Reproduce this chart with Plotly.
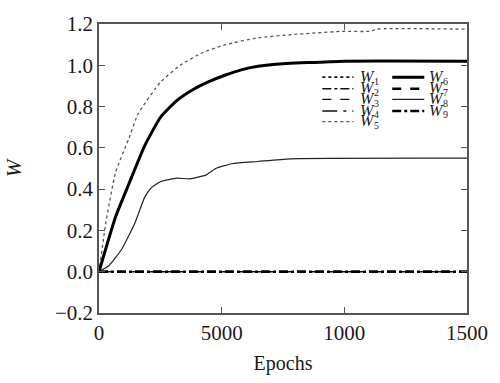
import plotly.graph_objects as go

# ---- data ----
epochs_top = [0, 277, 673, 1200, 1595, 2520, 3310, 4235, 5160, 6480, 7800, 9840, 11100, 11300, 15000]
w5_vals = [0, 0.236, 0.48, 0.64, 0.765, 0.92, 1.0, 1.062, 1.10, 1.133, 1.148, 1.164, 1.165, 1.175, 1.175]

epochs_w6 = [0, 673, 1200, 1860, 2520, 3180, 3840, 4500, 5160, 5800, 6480, 7200, 8500, 10000, 15000]
w6_vals = [0, 0.265, 0.42, 0.61, 0.75, 0.83, 0.883, 0.922, 0.953, 0.978, 0.995, 1.005, 1.013, 1.02, 1.02]

epochs_w8 = [0, 410, 930, 1460, 1860, 2120, 2520, 3180, 3700, 4370, 4760, 5420, 6480, 7800, 15000]
w8_vals = [0, 0.03, 0.11, 0.235, 0.36, 0.405, 0.437, 0.453, 0.45, 0.469, 0.50, 0.523, 0.534, 0.547, 0.55]

epochs_zero = [0, 15000]
zero_vals = [0, 0]

x_tickvals = [0, 5000, 10000, 15000]
x_ticktext = ["0", "5000", "1000", "1500"]
y_tickvals = [-0.2, 0, 0.2, 0.4, 0.6, 0.8, 1.0, 1.2]
y_ticktext = ["\u22120.2", "0.0", "0.2", "0.4", "0.6", "0.8", "1.0", "1.2"]

styles = {
    "W1": ("dot", 1.6, "#111"),
    "W2": ("dashdot", 1.4, "#111"),
    "W3": ("dash", 1.4, "#111"),
    "W4": ("longdashdot", 1.4, "#111"),
    "W5": ("dot", 1.3, "#555"),
    "W6": ("solid", 3.0, "#000"),
    "W7": ("dash", 2.4, "#000"),
    "W8": ("solid", 1.2, "#222"),
    "W9": ("dashdot", 2.4, "#000"),
}

series = {
    "W1": (epochs_zero, zero_vals),
    "W2": (epochs_zero, zero_vals),
    "W3": (epochs_zero, zero_vals),
    "W4": (epochs_zero, zero_vals),
    "W5": (epochs_top, w5_vals),
    "W6": (epochs_w6, w6_vals),
    "W7": (epochs_zero, zero_vals),
    "W8": (epochs_w8, w8_vals),
    "W9": (epochs_zero, zero_vals),
}

FONT = "Liberation Serif"
TXT = "#1a1a1a"

fig = go.Figure()
for name, (xs, ys) in series.items():
    dash, width, color = styles[name]
    fig.add_trace(go.Scatter(
        x=xs, y=ys, mode="lines", name=name, showlegend=False,
        line=dict(dash=dash, width=width, color=color, shape="spline", smoothing=0.5),
    ))

# ---- manual compact legend (two columns) ----
L, R, T, B = 98, 23, 17, 67
W, H = 500, 383
pw, ph = W - L - R, H - T - B

def px_to_paper(px, py):
    return (px - L) / pw, (H - B - py) / ph

rows = [72, 84, 95, 107, 118]
col1 = ["W1", "W2", "W3", "W4", "W5"]
col2 = ["W6", "W7", "W8", "W9"]
shapes = []
annotations = []
for cols, (x0, x1, xt) in ((col1, (328, 360, 365)), (col2, (400, 433, 436))):
    for i, name in enumerate(cols):
        dash, width, color = styles[name]
        py = rows[i]
        a0, b0 = px_to_paper(x0, py)
        a1, _ = px_to_paper(x1, py)
        shapes.append(dict(type="line", xref="paper", yref="paper", x0=a0, x1=a1, y0=b0, y1=b0,
                           line=dict(dash=dash, width=width, color=color)))
        at, bt = px_to_paper(xt, py - 1)
        annotations.append(dict(xref="paper", yref="paper", x=at, y=bt, xanchor="left", yanchor="middle",
                                text="<i>W</i>", showarrow=False,
                                font=dict(family=FONT, size=16, color=TXT)))
        as_, bs = px_to_paper(xt + 14, py + 4)
        annotations.append(dict(xref="paper", yref="paper", x=as_, y=bs, xanchor="left", yanchor="middle",
                                text=name[1:], showarrow=False,
                                font=dict(family=FONT, size=10, color=TXT)))

fig.update_layout(
    width=W, height=H,
    margin=dict(l=L, r=R, t=T, b=B),
    paper_bgcolor="white", plot_bgcolor="white",
    font=dict(family=FONT, size=21, color=TXT),
    shapes=shapes, annotations=annotations,
    xaxis=dict(range=[0, 15000], tickvals=x_tickvals, ticktext=x_ticktext,
               ticks="inside", ticklen=6, tickwidth=1.3, tickcolor="#555",
               showline=True, linecolor="#555", linewidth=1.5, mirror="ticks",
               showgrid=False, zeroline=False,
               tickfont=dict(family=FONT, size=21, color=TXT),
               title=dict(text="Epochs", font=dict(family=FONT, size=20, color=TXT), standoff=12)),
    yaxis=dict(range=[-0.2, 1.2], tickvals=y_tickvals, ticktext=y_ticktext,
               ticks="inside", ticklen=6, tickwidth=1.3, tickcolor="#555",
               showline=True, linecolor="#555", linewidth=1.5, mirror="ticks",
               showgrid=False, zeroline=False,
               tickfont=dict(family=FONT, size=21, color=TXT),
               title=dict(text="<i>W</i>", font=dict(family=FONT, size=21, color=TXT), standoff=28)),
)

fig.write_html("out.html")
